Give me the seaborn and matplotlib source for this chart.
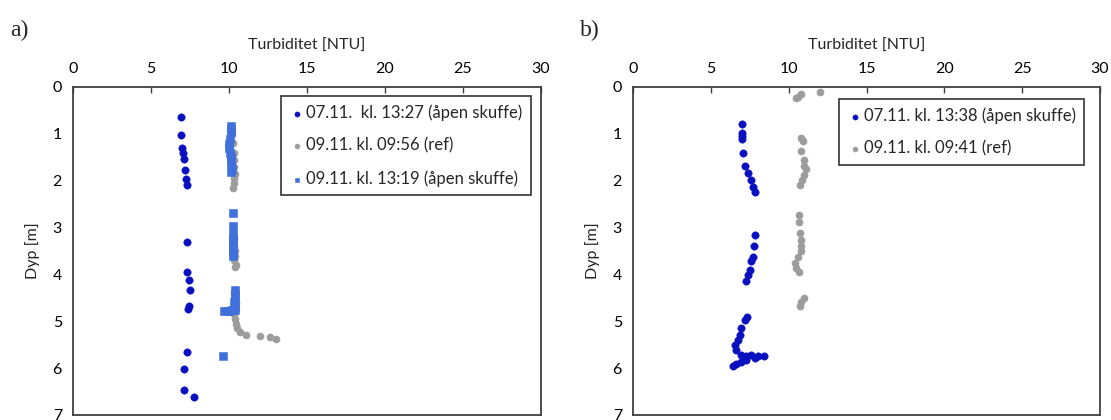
import numpy as np
import pandas as pd
import matplotlib
matplotlib.use("Agg")
import matplotlib.pyplot as plt
import seaborn as sns

# ---- panel a) ----
a_0711_turb = [6.90, 6.92, 6.97, 7.07, 7.14, 7.20, 7.22, 7.33, 7.29, 7.29, 7.42,
               7.48, 7.42, 7.37, 7.31, 7.12, 7.12, 7.78]
a_0711_dyp = [0.65, 1.02, 1.30, 1.40, 1.54, 1.78, 1.97, 2.10, 3.30, 3.95, 4.12,
              4.34, 4.68, 4.73, 5.66, 6.02, 6.46, 6.62]

a_ref_turb = [10.20, 10.25, 10.30, 10.35, 10.35, 10.40, 10.35, 10.30, 10.25,
              10.30, 10.35, 10.40, 10.40, 10.35, 10.45, 10.40,
              10.35, 10.40, 10.45, 10.40, 10.35, 10.40, 10.45, 10.50, 10.70,
              11.10, 12.00, 12.60, 13.00]
a_ref_dyp = [1.00, 1.20, 1.40, 1.55, 1.70, 1.85, 1.95, 2.05, 2.15,
             3.25, 3.40, 3.50, 3.60, 3.70, 3.80, 3.85,
             4.40, 4.50, 4.60, 4.70, 4.85, 4.95, 5.05, 5.15, 5.22,
             5.29, 5.32, 5.34, 5.37]

a_0911_turb = [10.15, 10.12, 10.10, 10.05, 10.00, 10.02, 10.08, 10.12, 10.15,
               10.15, 10.18, 10.15,
               10.23, 10.23, 10.27, 10.27, 10.25, 10.27, 10.28, 10.27, 10.26,
               10.36, 10.38, 10.36, 10.34, 10.36, 10.38,
               10.40, 10.20, 10.00, 9.85, 9.70, 9.64]
a_0911_dyp = [0.83, 0.90, 0.97, 1.10, 1.22, 1.30, 1.40, 1.50, 1.58,
              1.66, 1.74, 1.82,
              2.68, 2.96, 3.14, 3.22, 3.30, 3.38, 3.45, 3.52, 3.60,
              4.34, 4.42, 4.50, 4.58, 4.64, 4.70,
              4.75, 4.76, 4.77, 4.78, 4.78, 5.74]

# ---- panel b) ----
b_0711_turb = [7.01, 7.01, 7.01, 7.01, 7.07, 7.22, 7.39, 7.57, 7.72, 7.82,
               7.82, 7.80, 7.72, 7.61, 7.50, 7.39, 7.24,
               7.33, 7.18, 6.96, 6.86, 6.75, 6.54, 6.64, 6.96, 7.29, 7.61,
               8.03, 8.40, 7.82, 7.29, 6.96, 6.64, 6.43]
b_0711_dyp = [0.80, 0.99, 1.05, 1.10, 1.41, 1.68, 1.84, 1.98, 2.13, 2.25,
              3.16, 3.40, 3.63, 3.72, 3.90, 4.01, 4.14,
              4.91, 4.98, 5.15, 5.29, 5.40, 5.50, 5.61, 5.71, 5.75, 5.71,
              5.74, 5.75, 5.78, 5.82, 5.87, 5.92, 5.96]

b_ref_turb = [11.99, 10.81, 10.60, 10.50, 10.81, 10.90, 10.81, 10.96, 11.00,
              11.10, 11.00, 10.88, 10.70,
              10.64, 10.64, 10.70, 10.81, 10.81, 10.81, 10.60, 10.40, 10.50,
              10.66, 11.00, 10.81, 10.70]
b_ref_dyp = [0.11, 0.14, 0.21, 0.24, 1.09, 1.16, 1.36, 1.55, 1.69,
             1.76, 1.87, 1.98, 2.09,
             2.73, 2.89, 3.12, 3.26, 3.40, 3.51, 3.62, 3.76, 3.87,
             3.94, 4.51, 4.58, 4.67]

DARK_BLUE = "#0A10C0"
GREY = "#9C9C9C"
LIGHT_BLUE = "#4070DC"

sns.set_theme(style="white")
plt.rcParams["font.family"] = ["Lato", "DejaVu Sans"]

fig = plt.figure(figsize=(11.11, 4.2), dpi=100)
ax_a = fig.add_axes([73 / 1111, 1 - 415 / 420, 468 / 1111, 328 / 420])
ax_b = fig.add_axes([633 / 1111, 1 - 415 / 420, 467 / 1111, 328 / 420])


def draw_series(ax, turb, dyp, color, marker, label, size):
    df = pd.DataFrame({"turb": turb, "dyp": dyp})
    sns.scatterplot(data=df, x="turb", y="dyp", ax=ax, color=color, marker=marker,
                    s=size, edgecolor=color, linewidth=0.4, label=label)


draw_series(ax_a, a_ref_turb, a_ref_dyp, GREY, "o", "09.11. kl. 09:56 (ref)", 26)
draw_series(ax_a, a_0911_turb, a_0911_dyp, LIGHT_BLUE, "s", "09.11. kl. 13:19 (åpen skuffe)", 26)
draw_series(ax_a, a_0711_turb, a_0711_dyp, DARK_BLUE, "o", "07.11.  kl. 13:27 (åpen skuffe)", 28)

draw_series(ax_b, b_ref_turb, b_ref_dyp, GREY, "o", "09.11. kl. 09:41 (ref)", 26)
draw_series(ax_b, b_0711_turb, b_0711_dyp, DARK_BLUE, "o", "07.11. kl. 13:38 (åpen skuffe)", 28)

for ax, order, bbox in [(ax_a, [2, 0, 1], (0.978, 0.972)), (ax_b, [1, 0], (0.966, 0.963))]:
    ax.set_xlim(0, 30)
    ax.set_ylim(7, 0)
    ax.set_xticks(np.arange(0, 31, 5))
    ax.set_yticks(np.arange(0, 8, 1))
    ax.xaxis.set_label_position("top")
    ax.xaxis.tick_top()
    ax.tick_params(axis="both", direction="in", length=4, width=1,
                   color="#404040", labelsize=11.5, labelcolor="black", pad=8)
    ax.set_xlabel("Turbiditet [NTU]", fontsize=11.5, labelpad=9)
    ax.set_ylabel("Dyp [m]", fontsize=11.5, labelpad=9)
    for sp in ax.spines.values():
        sp.set_visible(True)
        sp.set_color("#404040")
        sp.set_linewidth(1.3)
    handles, labels = ax.get_legend_handles_labels()
    leg = ax.legend([handles[i] for i in order], [labels[i] for i in order],
                    loc="upper right", bbox_to_anchor=bbox, fontsize=12,
                    frameon=True, fancybox=False, edgecolor="black",
                    handletextpad=0.1, handlelength=0.9, borderpad=0.5,
                    labelspacing=1.0, markerscale=0.7, borderaxespad=0)
    leg.get_frame().set_linewidth(1.2)

fig.text(10 / 1111, 1 - 30 / 420, "a)", fontsize=17, family="Liberation Serif",
         va="center", ha="left")
fig.text(580 / 1111, 1 - 30 / 420, "b)", fontsize=17, family="Liberation Serif",
         va="center", ha="left")

fig.savefig("out.png", dpi=100, facecolor="white")
